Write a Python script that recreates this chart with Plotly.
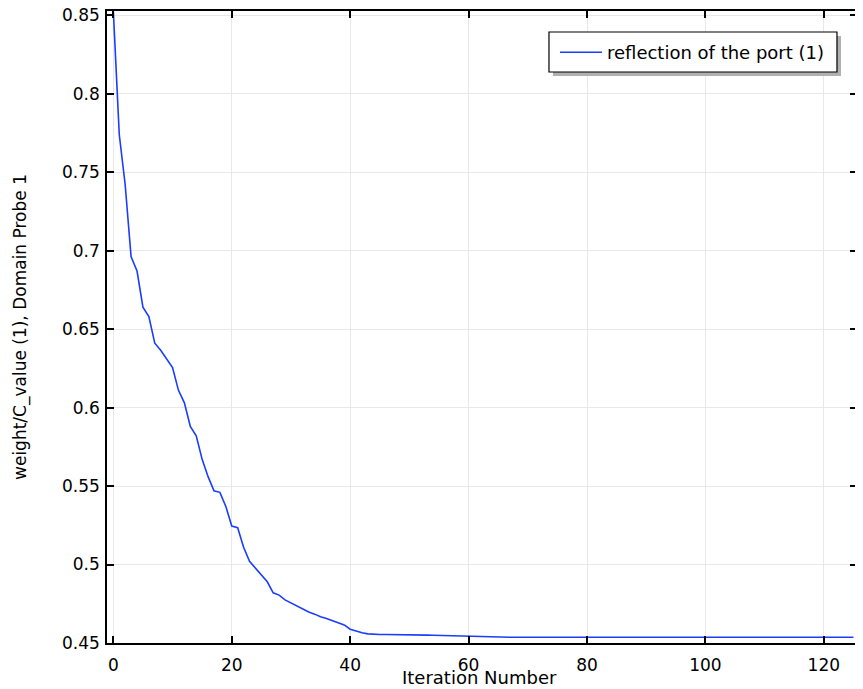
import plotly.graph_objects as go

iterations = list(range(0, 126))
values = [
    0.8525, 0.774, 0.742, 0.696, 0.687, 0.664, 0.658, 0.641, 0.6365, 0.631,
    0.6255, 0.611, 0.603, 0.588, 0.582, 0.567, 0.556, 0.547, 0.546, 0.537,
    0.5245, 0.5235, 0.511, 0.502, 0.4976, 0.493, 0.489, 0.482, 0.4805, 0.4775,
    0.4756, 0.4738, 0.472, 0.4697, 0.4684, 0.4667, 0.4656, 0.4642, 0.4628, 0.4615,
    0.4588, 0.4575, 0.4565, 0.4558, 0.4555, 0.4554, 0.4554, 0.4554, 0.4554, 0.4554,
    0.4554, 0.4552, 0.4551, 0.4550, 0.4549, 0.4548, 0.4546, 0.4544, 0.4542, 0.4541,
    0.4540, 0.4539, 0.4538, 0.4537, 0.4537, 0.4537, 0.4537, 0.4537, 0.4537, 0.4537,
    0.4537, 0.4537, 0.4537, 0.4537, 0.4537, 0.4537, 0.4537, 0.4537, 0.4537, 0.4537,
    0.4537, 0.4537, 0.4537, 0.4537, 0.4537, 0.4537, 0.4537, 0.4537, 0.4537, 0.4537,
    0.4537, 0.4537, 0.4537, 0.4537, 0.4537, 0.4537, 0.4537, 0.4537, 0.4537, 0.4537,
    0.4537, 0.4537, 0.4537, 0.4537, 0.4537, 0.4537, 0.4537, 0.4537, 0.4537, 0.4537,
    0.4537, 0.4537, 0.4537, 0.4537, 0.4537, 0.4537, 0.4537, 0.4537, 0.4537, 0.4537,
    0.4537, 0.4537, 0.4537, 0.4537, 0.4537, 0.4537,
]
series_name = "reflection of the port (1)"
x_title = "Iteration Number"
y_title = "weight/C_value (1), Domain Probe 1"
x_ticks = [0, 20, 40, 60, 80, 100, 120]
y_ticks = [0.45, 0.5, 0.55, 0.6, 0.65, 0.7, 0.75, 0.8, 0.85]
y_ticklabels = ["0.45", "0.5", "0.55", "0.6", "0.65", "0.7", "0.75", "0.8", "0.85"]

font_family = "DejaVu Sans"

fig = go.Figure()
fig.add_trace(go.Scatter(
    x=iterations, y=values, mode="lines", name=series_name,
    line=dict(color="#1a3dff", width=1.6),
    showlegend=True,
))

# legend shadow and frame (paper coordinates)
fig.add_shape(type="rect", xref="paper", yref="paper",
              x0=0.5947, x1=0.9787, y0=0.8972, y1=0.9604,
              fillcolor="#b0b0b0", line=dict(width=0), layer="above")
fig.add_shape(type="rect", xref="paper", yref="paper",
              x0=0.5893, x1=0.9733, y0=0.9035, y1=0.9668,
              fillcolor="white", line=dict(color="black", width=1.2), layer="above")

# x axis title placed as text just under the tick labels
fig.add_annotation(text=x_title, xref="paper", yref="paper", x=0.4973, y=-0.0538,
                   xanchor="center", yanchor="middle", showarrow=False,
                   font=dict(family=font_family, size=18, color="black"))

axis_common = dict(
    showline=True, linecolor="black", linewidth=1.6, mirror="allticks",
    ticks="inside", ticklen=7, tickwidth=1.5, tickcolor="black",
    showgrid=True, gridcolor="#e8e8e8", gridwidth=1,
    zeroline=False, automargin=False, ticklabeloverflow="allow",
    tickfont=dict(family=font_family, size=17, color="black"),
)

fig.update_layout(
    width=863, height=689,
    margin=dict(l=99, r=14, t=3, b=54),
    paper_bgcolor="white", plot_bgcolor="white",
    font=dict(family=font_family, color="black"),
    xaxis=dict(
        range=[-1.07, 125.6], tickvals=x_ticks,
        ticklabelstandoff=6,
        **axis_common,
    ),
    yaxis=dict(
        range=[0.45, 0.8527], tickvals=y_ticks, ticktext=y_ticklabels,
        title=dict(text=y_title, font=dict(family=font_family, size=17, color="black"), standoff=31),
        ticklabelstandoff=2,
        **axis_common,
    ),
    legend=dict(
        x=0.5973, xanchor="left", y=0.9636, yanchor="top",
        bgcolor="rgba(0,0,0,0)", borderwidth=0,
        font=dict(family=font_family, size=18, color="black"),
        itemwidth=42,
    ),
)

fig.write_html("out.html")
